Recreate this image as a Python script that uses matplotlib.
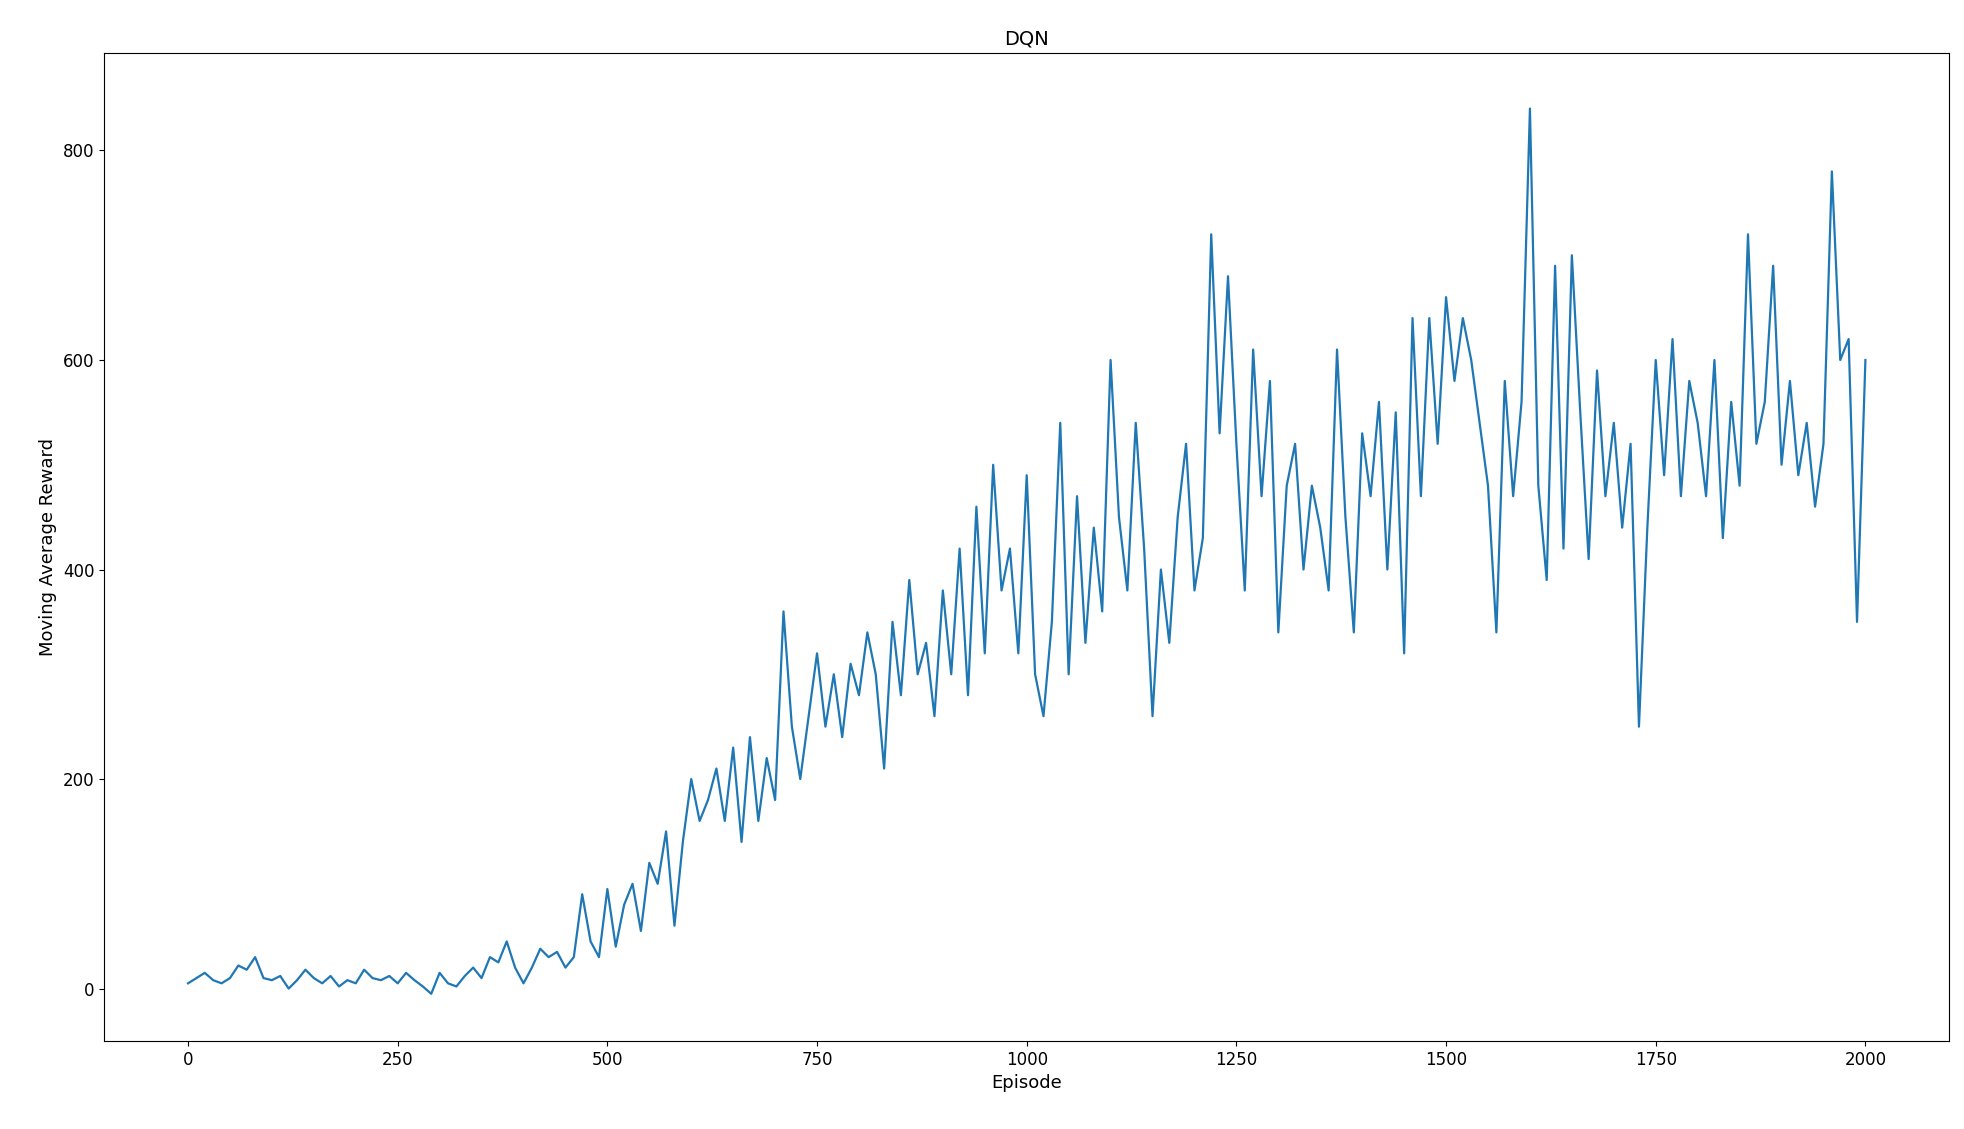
#!/usr/bin/env python3
"""Moving average reward curve for DQN training."""

import matplotlib
matplotlib.use("Agg")
import matplotlib.pyplot as plt
import numpy as np

# values, one every 10 episodes
EPISODES = list(range(0, 2001, 10))
REWARD = [
    5, 10, 15, 8, 5, 10, 22, 18, 30, 10,
    8, 12, 0, 8, 18, 10, 5, 12, 2, 8,
    5, 18, 10, 8, 12, 5, 15, 8, 2, -5,
    15, 5, 2, 12, 20, 10, 30, 25, 45, 20,
    5, 20, 38, 30, 35, 20, 30, 90, 45, 30,
    95, 40, 80, 100, 55, 120, 100, 150, 60, 140,
    200, 160, 180, 210, 160, 230, 140, 240, 160, 220,
    180, 360, 250, 200, 260, 320, 250, 300, 240, 310,
    280, 340, 300, 210, 350, 280, 390, 300, 330, 260,
    380, 300, 420, 280, 460, 320, 500, 380, 420, 320,
    490, 300, 260, 350, 540, 300, 470, 330, 440, 360,
    600, 450, 380, 540, 420, 260, 400, 330, 450, 520,
    380, 430, 720, 530, 680, 520, 380, 610, 470, 580,
    340, 480, 520, 400, 480, 440, 380, 610, 450, 340,
    530, 470, 560, 400, 550, 320, 640, 470, 640, 520,
    660, 580, 640, 600, 540, 480, 340, 580, 470, 560,
    840, 480, 390, 690, 420, 700, 550, 410, 590, 470,
    540, 440, 520, 250, 440, 600, 490, 620, 470, 580,
    540, 470, 600, 430, 560, 480, 720, 520, 560, 690,
    500, 580, 490, 540, 460, 520, 780, 600, 620, 350,
    600,
]


def main():
    plt.rc('font', size=11)
    fig = plt.figure(figsize=(19.65, 11.29), dpi=100)
    ax = fig.add_axes([0.053, 0.078, 0.939, 0.875])
    ax.plot(np.array(EPISODES), np.array(REWARD), color='#1f77b4', linewidth=1.6)
    ax.set_title('DQN', fontsize=14)
    ax.set_xlabel('Episode', fontsize=13)
    ax.set_ylabel('Moving Average Reward', fontsize=13)
    ax.set_xticks([0, 250, 500, 750, 1000, 1250, 1500, 1750, 2000])
    ax.set_yticks([0, 200, 400, 600, 800])
    ax.tick_params(labelsize=12)
    ax.set_xlim(-100, 2100)
    ax.set_ylim(-50, 893)
    fig.savefig('out.png', dpi=100)


if __name__ == "__main__":
    main()
